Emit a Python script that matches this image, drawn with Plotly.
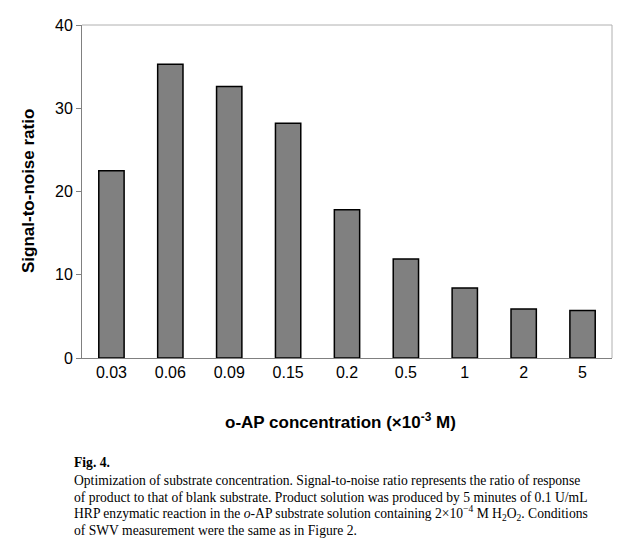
import plotly.graph_objects as go

categories = ["0.03", "0.06", "0.09", "0.15", "0.2", "0.5", "1", "2", "5"]
snr_values = [22.5, 35.3, 32.6, 28.2, 17.8, 11.9, 8.4, 5.9, 5.7]
y_ticks = [0, 10, 20, 30, 40]

caption_lines = [
    "<b>Fig. 4.</b>",
    "Optimization of substrate concentration. Signal-to-noise ratio represents the ratio of response",
    "of product to that of blank substrate. Product solution was produced by 5 minutes of 0.1 U/mL",
    "HRP enzymatic reaction in the <i>o</i>-AP substrate solution containing 2×10<sup>−4</sup> M H<sub>2</sub>O<sub>2</sub>. Conditions",
    "of SWV measurement were the same as in Figure 2.",
]

W, H = 632, 551
L, R, T, B = 82, 20, 25, 193
pw, ph = W - L - R, H - T - B

fig = go.Figure()
fig.add_trace(go.Bar(
    x=categories, y=snr_values,
    marker=dict(color="#808080", line=dict(color="#000000", width=1.5)),
    width=0.43,
))

fig.update_layout(
    width=W, height=H,
    margin=dict(l=L, r=R, t=T, b=B),
    paper_bgcolor="white", plot_bgcolor="white",
    showlegend=False,
    font=dict(family="Liberation Sans, Arial", color="#000000"),
    xaxis=dict(
        type="category", showline=True, linecolor="#808080", linewidth=1,
        mirror=False, ticks="", tickfont=dict(size=16), showgrid=False,
        zeroline=False,
    ),
    yaxis=dict(
        range=[0, 40], tickvals=y_ticks, showline=True, linecolor="#808080",
        linewidth=1, ticks="outside", ticklen=5, tickcolor="#808080",
        tickfont=dict(size=16), showgrid=False, zeroline=False,
    ),
    shapes=[
        dict(type="line", xref="paper", yref="paper", x0=0, x1=1, y0=1, y1=1,
             line=dict(color="#b0b0b0", width=1)),
        dict(type="line", xref="paper", yref="paper", x0=1, x1=1, y0=0, y1=1,
             line=dict(color="#b0b0b0", width=1)),
    ],
)

def px_x(px):
    return (px - L) / pw

def px_y(py):
    return (H - B - py) / ph

ann = []
ann.append(dict(text="<b>Signal-to-noise ratio</b>", xref="paper", yref="paper",
                x=px_x(28), y=px_y(191), textangle=-90, showarrow=False,
                font=dict(size=17, family="Liberation Sans, Arial"),
                xanchor="center", yanchor="middle"))
ann.append(dict(text="<b>o-AP concentration (×10<sup>-3</sup> M)</b>", xref="paper", yref="paper",
                x=px_x(340), y=px_y(421), showarrow=False,
                font=dict(size=17, family="Liberation Sans, Arial"),
                xanchor="center", yanchor="middle"))
line_y = [463, 480.5, 497, 513.5, 530]
for txt, yy in zip(caption_lines, line_y):
    ann.append(dict(text=txt, xref="paper", yref="paper", x=px_x(72), y=px_y(yy),
                    showarrow=False, xanchor="left", yanchor="middle", align="left",
                    font=dict(size=13.6, family="Liberation Serif, Times New Roman")))
fig.update_layout(annotations=ann)

fig.write_html("out.html", config={"displayModeBar": False})

with open("out.html", "r", encoding="utf-8") as f:
    html = f.read()
html = html.replace("<body>", '<body style="margin:0;padding:0;overflow:hidden">', 1)
with open("out.html", "w", encoding="utf-8") as f:
    f.write(html)
